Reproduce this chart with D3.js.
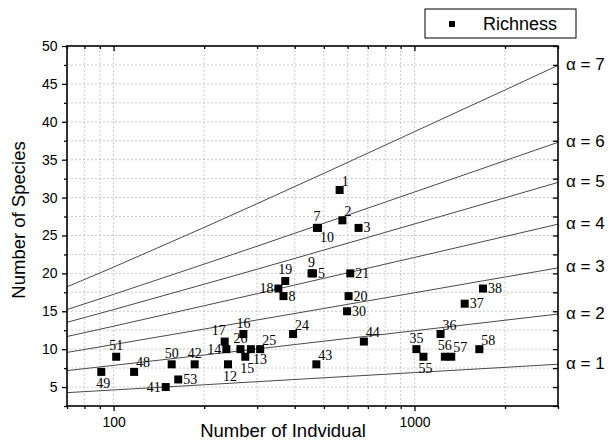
<!DOCTYPE html>
<html>
<head>
<meta charset="utf-8">
<script src="https://cdn.jsdelivr.net/npm/d3@7"></script>
<style>
  body { margin: 0; background: #fff; }
  svg { font-family: "Liberation Sans", Arial, sans-serif; }
</style>
</head>
<body>
<svg id="chart" width="614" height="443"></svg>
<script>
// site number, number of individuals, number of species
const siteIds = [1, 2, 3, 5, 7, 8, 9, 10, 12, 13, 14, 15, 16, 17, 18, 19, 20, 21, 24, 25, 26, 30,
  35, 36, 37, 38, 41, 42, 43, 44, 48, 49, 50, 51, 53, 55, 56, 57, 58];
const individuals = [564, 576, 652, 460, 474, 367, 455, 478, 240, 286, 237, 274, 270, 234, 353, 372, 604, 612, 395, 307, 264, 597,
  1015, 1221, 1469, 1690, 149, 186, 472, 679, 117, 91, 156, 102, 164, 1071, 1262, 1325, 1643];
const species = [31, 27, 26, 20, 26, 17, 20, 26, 8, 10, 10, 9, 12, 11, 18, 19, 17, 20, 12, 10, 10, 15,
  10, 12, 16, 18, 5, 8, 8, 11, 7, 7, 8, 9, 6, 9, 9, 9, 10];

// alpha isolines, read at these N values
const alphaN = [70, 100, 200, 300, 500, 1000, 2000, 3000];
const alphaLabels = ["α = 1", "α = 2", "α = 3", "α = 4", "α = 5", "α = 6", "α = 7"];
const alphaS = [
  [4.26, 4.62, 5.30, 5.71, 6.22, 6.91, 7.60, 8.01],
  [7.17, 7.86, 9.23, 10.03, 11.05, 12.43, 13.82, 14.63],
  [9.57, 10.61, 12.65, 13.85, 15.37, 17.44, 19.52, 20.72],
  [11.67, 13.03, 15.73, 17.32, 19.35, 22.10, 24.87, 26.49],
  [13.54, 15.22, 18.57, 20.55, 23.08, 26.52, 29.97, 32.00],
  [15.23, 17.23, 21.22, 23.59, 26.61, 30.73, 34.87, 37.29],
  [18.22, 20.82, 26.06, 29.20, 33.20, 38.69, 44.20, 47.44]
];

const xMajor = [100, 1000];
const xMinor = [70, 80, 90, 200, 300, 400, 500, 600, 700, 800, 900, 2000, 3000];
const yMajor = [5, 10, 15, 20, 25, 30, 35, 40, 45, 50];
const yMinor = [2.5, 7.5, 12.5, 17.5, 22.5, 27.5, 32.5, 37.5, 42.5, 47.5];

// where each site label sits next to its square
const labelSide = {1:"ne",2:"ne",3:"e",5:"e",7:"n",8:"e",9:"n",10:"se",12:"s",13:"se",14:"w",15:"s",
  16:"n",17:"nw",18:"w",19:"n",20:"e",21:"e",24:"ne",25:"ne",26:"n",30:"e",35:"n",36:"ne",37:"e",38:"e",
  41:"w",42:"n",43:"ne",44:"ne",48:"ne",49:"s",50:"n",51:"n",53:"e",55:"s",56:"n",57:"ne",58:"ne"};

const margin = {top: 46, right: 56, bottom: 37, left: 67};
const width = 614 - margin.left - margin.right;
const height = 443 - margin.top - margin.bottom;

const svg = d3.select("#chart");
const g = svg.append("g").attr("transform", `translate(${margin.left},${margin.top})`);

const x = d3.scaleLog().domain([70, 3000]).range([0, width]);
const y = d3.scaleLinear().domain([2.5, 50]).range([height, 0]);

// dashed grid
const gridX = xMajor.concat(xMinor).filter(d => d > 70 && d < 3000);
const gridY = yMajor.concat(yMinor).filter(d => d > 2.5 && d < 50);
g.selectAll(".gx").data(gridX).enter().append("line")
  .attr("x1", d => x(d)).attr("x2", d => x(d))
  .attr("y1", 0).attr("y2", height)
  .attr("stroke", "#bdbdbd").attr("stroke-width", 0.8).attr("stroke-dasharray", "2,2");
g.selectAll(".gy").data(gridY).enter().append("line")
  .attr("x1", 0).attr("x2", width)
  .attr("y1", d => y(d)).attr("y2", d => y(d))
  .attr("stroke", "#bdbdbd").attr("stroke-width", 0.8).attr("stroke-dasharray", "2,2");

// alpha lines
const line = d3.line().x((d, i) => x(alphaN[i])).y(d => y(d));
g.selectAll(".alpha").data(alphaS).enter().append("path")
  .attr("d", line)
  .attr("fill", "none")
  .attr("stroke", "#4a4a4a")
  .attr("stroke-width", 1);

// alpha labels on the right
g.selectAll(".alab").data(alphaS).enter().append("text")
  .attr("x", width + 8)
  .attr("y", d => y(d[d.length - 1]) - 1)
  .attr("dominant-baseline", "central")
  .attr("fill", "#000")
  .style("font-size", "17px")
  .text((d, i) => alphaLabels[i]);

// axes: minor and major ticks
function axisPair(axisFn, scale, major, minor, inner, tr, labels) {
  const a1 = g.append("g").attr("transform", tr)
    .call(axisFn(scale).tickValues(minor).tickSize(inner ? -3 : 3).tickFormat(""));
  const a2 = g.append("g").attr("transform", tr)
    .call(axisFn(scale).tickValues(major).tickSize(inner ? -5 : 5)
      .tickFormat(labels ? (d => d) : ""));
  [a1, a2].forEach(a => {
    a.select(".domain").remove();
    a.selectAll("line").attr("stroke", "#000").attr("stroke-width", 1.3);
    a.selectAll("text").style("font-size", "14px").attr("fill", "#000");
  });
  return a2;
}
const bottomAx = axisPair(d3.axisBottom, x, xMajor, xMinor, false, `translate(0,${height})`, true);
bottomAx.selectAll("text").attr("dy", "0.9em");
axisPair(d3.axisTop, x, xMajor, xMinor, true, "translate(0,0)", false);
const leftAx = axisPair(d3.axisLeft, y, yMajor, yMinor, false, "translate(0,0)", true);
leftAx.selectAll("text").attr("dx", "-0.1em");
axisPair(d3.axisRight, y, yMajor.concat(yMinor), [], true, `translate(${width},0)`, false);

// frame
g.append("rect").attr("width", width).attr("height", height)
  .attr("fill", "none").attr("stroke", "#000").attr("stroke-width", 1.6);

// points
const pts = siteIds.map((id, i) => ({id: id, n: individuals[i], s: species[i]}));
g.selectAll(".pt").data(pts).enter().append("rect")
  .attr("x", d => x(d.n) - 4).attr("y", d => y(d.s) - 4)
  .attr("width", 8).attr("height", 8)
  .attr("fill", "#000");

const off = {
  n: [0, -11, "middle"], s: [2, 12, "middle"], e: [5, 0, "start"], w: [-5, 0, "end"],
  ne: [2, -9, "start"], se: [2, 10, "start"], nw: [1, -11, "end"]
};
g.selectAll(".plab").data(pts).enter().append("text")
  .attr("x", d => x(d.n) + off[labelSide[d.id]][0])
  .attr("y", d => y(d.s) + off[labelSide[d.id]][1])
  .attr("text-anchor", d => off[labelSide[d.id]][2])
  .attr("dominant-baseline", "central")
  .attr("fill", "#000")
  .style("font-family", "'Liberation Serif', 'Times New Roman', serif")
  .style("font-size", "14px")
  .text(d => d.id);

// axis titles
svg.append("text")
  .attr("x", 283).attr("y", 437)
  .attr("text-anchor", "middle")
  .style("font-size", "18.5px")
  .text("Number of Indvidual");
svg.append("text")
  .attr("transform", "translate(25,220) rotate(-90)")
  .attr("text-anchor", "middle")
  .style("font-size", "18.5px")
  .text("Number of Species");

// legend
const lg = svg.append("g");
lg.append("rect").attr("x", 425).attr("y", 9).attr("width", 151).attr("height", 29)
  .attr("fill", "#fff").attr("stroke", "#000").attr("stroke-width", 1);
lg.append("rect").attr("x", 449).attr("y", 21).attr("width", 6).attr("height", 6).attr("fill", "#000");
lg.append("text").attr("x", 483).attr("y", 24).attr("dominant-baseline", "central")
  .style("font-size", "18px").text("Richness");
</script>
</body>
</html>
